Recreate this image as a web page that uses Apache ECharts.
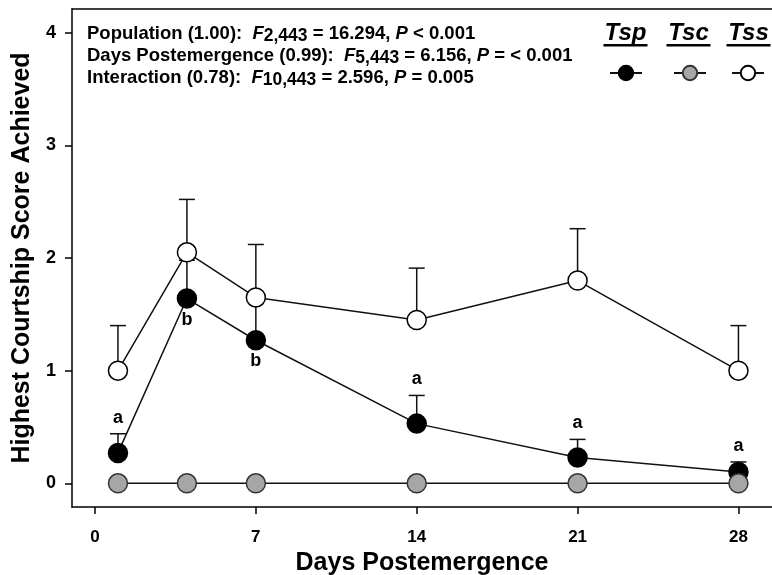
<!DOCTYPE html>
<html>
<head>
<meta charset="utf-8">
<title>Highest Courtship Score</title>
<script src="https://cdn.jsdelivr.net/npm/echarts@6/dist/echarts.min.js"></script>
<style>
	html, body { margin: 0; padding: 0; background: #fff; }
	#main { width: 772px; height: 575px; }
</style>
</head>
<body>
<div id="main"></div>
<script>
var days = [1, 4, 7, 14, 21, 28];
var tspMean = [0.27, 1.64, 1.27, 0.53, 0.23, 0.10];
var tspUpper = [0.44, 1.98, 1.60, 0.78, 0.39, 0.19];
var tscMean = [0, 0, 0, 0, 0, 0];
var tssMean = [1.00, 2.05, 1.65, 1.45, 1.80, 1.00];
var tssUpper = [1.40, 2.52, 2.12, 1.91, 2.26, 1.40];
var tspLetters = ['a', 'b', 'b', 'a', 'a', 'a'];
var tspLetterSide = ['above', 'below', 'below', 'above', 'above', 'above'];
var xTicks = [0, 7, 14, 21, 28];
var yTicks = [0, 1, 2, 3, 4];
var statLines = [
	'{b|Population (1.00):  }{i|F}{s|2,443}{b| = 16.294, }{i|P}{b| < 0.001}',
	'{b|Days Postemergence (0.99):  }{i|F}{s|5,443}{b| = 6.156, }{i|P}{b| = < 0.001}',
	'{b|Interaction (0.78):  }{i|F}{s|10,443}{b| = 2.596, }{i|P}{b| = 0.005}'
];

var font = 'Liberation Sans, Arial, Helvetica, sans-serif';
var ink = '#111';

function pairs(ys) {
	return days.map(function(d, i) { return [d, ys[i]]; });
}

// upper error bars only
function errorSeries(id, means, uppers) {
	return {
		type: 'custom',
		id: id,
		z: 1,
		silent: true,
		encode: { x: 0, y: [1, 2] },
		renderItem: function(params, api) {
			var x = api.value(0);
			var p0 = api.coord([x, api.value(1)]);
			var p1 = api.coord([x, api.value(2)]);
			return {
				type: 'group',
				children: [{
					type: 'line',
					shape: { x1: p0[0], y1: p0[1], x2: p1[0], y2: p1[1] },
					style: { stroke: ink, lineWidth: 1.5 }
				}, {
					type: 'line',
					shape: { x1: p1[0] - 8, y1: p1[1], x2: p1[0] + 8, y2: p1[1] },
					style: { stroke: ink, lineWidth: 1.5 }
				}]
			};
		},
		data: days.map(function(d, i) { return [d, means[i], uppers[i]]; })
	};
}

function lineSeries(name, ys, fill, border) {
	return {
		name: name,
		type: 'line',
		z: 2,
		data: pairs(ys),
		symbol: 'circle',
		symbolSize: 19,
		showAllSymbol: true,
		lineStyle: { color: ink, width: 1.5 },
		itemStyle: { color: fill, borderColor: border, borderWidth: 1.5 }
	};
}

function legendFor(name, left) {
	return {
		data: [name],
		left: left,
		top: 64,
		padding: 0,
		itemGap: 0,
		itemWidth: 32,
		itemHeight: 18,
		selectedMode: false,
		formatter: function() { return ''; },
		textStyle: { fontSize: 1 }
	};
}

var myChart = echarts.init(document.getElementById('main'));
var option = {
	backgroundColor: '#fff',
	animation: false,
	textStyle: { fontFamily: font, color: '#000' },
	grid: { left: 72, top: 9, right: 0, bottom: 68, outerBoundsMode: 'none', containLabel: false },
	legend: [legendFor('Tsp', 609), legendFor('Tsc', 673), legendFor('Tss', 731)],
	xAxis: [{
		type: 'value',
		min: -1,
		max: 29.46,
		splitLine: { show: false },
		axisLine: { onZero: false, lineStyle: { color: '#000', width: 1.5 } },
		axisTick: { customValues: xTicks, length: 7, lineStyle: { color: '#000', width: 1.5 } },
		axisLabel: { customValues: xTicks, margin: 22, fontSize: 17, fontWeight: 'bold', color: '#000', fontFamily: font },
		name: 'Days Postemergence',
		nameLocation: 'middle',
		nameGap: 34,
		nameTextStyle: { fontSize: 25, fontWeight: 'bold', color: '#000', fontFamily: font }
	}, {
		// top frame line
		type: 'value',
		position: 'top',
		min: -1,
		max: 29.46,
		splitLine: { show: false },
		axisLine: { onZero: false, lineStyle: { color: '#000', width: 1.5 } },
		axisTick: { show: false },
		axisLabel: { show: false }
	}],
	yAxis: {
		type: 'value',
		min: -0.21,
		max: 4.21,
		splitLine: { show: false },
		axisLine: { onZero: false, lineStyle: { color: '#000', width: 1.5 } },
		axisTick: { customValues: yTicks, length: 7, lineStyle: { color: '#000', width: 1.5 } },
		axisLabel: { customValues: yTicks, margin: 16, fontSize: 18, fontWeight: 'bold', color: '#000', fontFamily: font },
		name: 'Highest Courtship Score Achieved',
		nameLocation: 'middle',
		nameGap: 30,
		nameTextStyle: { fontSize: 25, fontWeight: 'bold', color: '#000', fontFamily: font }
	},
	graphic: statLines.map(function(t, i) {
		return {
			type: 'text',
			x: 87,
			y: 34 + i * 22,
			style: {
				text: t,
				verticalAlign: 'middle',
				rich: {
					b: { fontFamily: font, fontSize: 18.5, fontWeight: 'bold', lineHeight: 22, fill: '#000' },
					i: { fontFamily: font, fontSize: 18.5, fontWeight: 'bold', fontStyle: 'italic', lineHeight: 22, fill: '#000' },
					s: { fontFamily: font, fontSize: 17.5, fontWeight: 'bold', lineHeight: 12, verticalAlign: 'bottom', fill: '#000' }
				}
			}
		};
	}).concat([['Tsp', 625.5], ['Tsc', 688.5], ['Tss', 748.5]].map(function(h) {
		return {
			type: 'group',
			children: [{
				type: 'text',
				x: h[1],
				y: 33,
				style: {
					text: h[0],
					font: 'italic bold 24px ' + font,
					textAlign: 'center',
					textVerticalAlign: 'middle',
					fill: '#000'
				}
			}, {
				type: 'rect',
				shape: { x: h[1] - 22, y: 44, width: 44, height: 2.5 },
				style: { fill: '#000' }
			}]
		};
	})),
	series: [
		errorSeries('tspErr', tspMean, tspUpper),
		errorSeries('tssErr', tssMean, tssUpper),
		lineSeries('Tsp', tspMean, '#000', '#000'),
		lineSeries('Tss', tssMean, '#fff', '#000'),
		lineSeries('Tsc', tscMean, '#a6a6a6', '#333'),
		{
			type: 'custom',
			id: 'letters',
			z: 3,
			silent: true,
			renderItem: function(params, api) {
				var i = params.dataIndex;
				var above = tspLetterSide[i] === 'above';
				var p = api.coord([days[i], above ? tspUpper[i] : tspMean[i]]);
				return {
					type: 'text',
					x: p[0],
					y: p[1] + (above ? -16 : 21),
					style: {
						text: tspLetters[i],
						font: 'bold 18px ' + font,
						textAlign: 'center',
						textVerticalAlign: 'middle',
						fill: '#000'
					}
				};
			},
			data: pairs(tspMean)
		}
	]
};
myChart.setOption(option);
</script>
</body>
</html>
